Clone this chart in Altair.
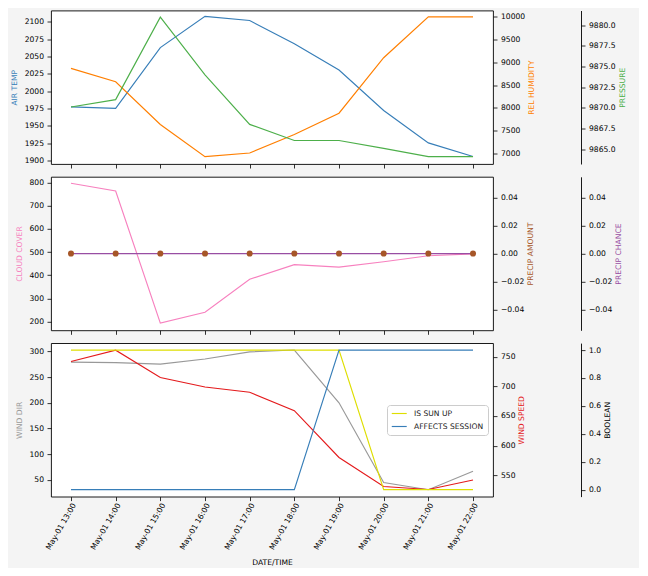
import altair as alt
import pandas as pd

# ---------------- data ----------------
times = ["May-01 13:00", "May-01 14:00", "May-01 15:00", "May-01 16:00", "May-01 17:00",
         "May-01 18:00", "May-01 19:00", "May-01 20:00", "May-01 21:00", "May-01 22:00"]
air_temp = [1977.5, 1975.2, 2063, 2108, 2102, 2068.6, 2030.6, 1972.3, 1925.5, 1905.8]
rel_humidity = [8868, 8573, 7633, 6927, 7007, 7412, 7882, 9102, 10000, 10000]
pressure = [9870.1, 9871.0, 9881.0, 9874.0, 9868.0, 9866.05, 9866.05, 9865.1, 9864.1, 9864.1]
cloud_cover = [796, 763, 194, 241, 383, 446, 435, 458, 484, 492]
precip_amount = [0, 0, 0, 0, 0, 0, 0, 0, 0, 0]
precip_chance = [0, 0, 0, 0, 0, 0, 0, 0, 0, 0]
wind_dir = [279, 278, 275, 285, 299, 302.5, 200, 45, 31, 67]
wind_speed = [742, 761, 715, 699, 690, 659, 580, 531, 526, 542]
is_sun_up = [1, 1, 1, 1, 1, 1, 1, 0, 0, 0]
affects_session = [0, 0, 0, 0, 0, 0, 1, 1, 1, 1]
bool_names = ["IS SUN UP", "AFFECTS SESSION"]

df = pd.DataFrame({
    "time": times, "air_temp": air_temp, "rel_humidity": rel_humidity, "pressure": pressure,
    "cloud_cover": cloud_cover, "precip_amount": precip_amount, "precip_chance": precip_chance,
    "wind_dir": wind_dir, "wind_speed": wind_speed,
})
bool_df = pd.DataFrame({
    "time": times * 2,
    "series": [bool_names[0]] * len(times) + [bool_names[1]] * len(times),
    "value": is_sun_up + affects_session,
})

# ---------------- style ----------------
FONT = "DejaVu Sans"
FS = 7.6
W, H = 442, 153.5
LW = 1.15
C = {"blue": "#377eb8", "orange": "#ff7f00", "green": "#4daf4a", "pink": "#f781bf",
     "brown": "#a65628", "purple": "#984ea3", "gray": "#999999", "red": "#e41a1c",
     "yellow": "#dede00"}


def xenc(bottom=False):
    if bottom:
        ax = alt.Axis(title="DATE/TIME", labelAngle=300, labelAlign="right", labelBaseline="middle",
                      labelPadding=3, labelOffset=3, tickSize=4, titlePadding=8, domain=False)
    else:
        ax = alt.Axis(title=None, labels=False, tickSize=4, domain=False)
    return alt.X("time:N", scale=alt.Scale(domain=times, padding=0.4475), axis=ax)


def yaxis(title, color, side, values, fmt, tpad):
    kw = dict(title=title, titleColor=color, values=values, format=fmt, tickSize=4,
              labelPadding=3.5, titlePadding=tpad)
    if side == "left":
        return alt.Axis(orient="left", domain=False, **kw)
    if side == "right":
        return alt.Axis(orient="right", domain=False, titleAngle=270, titleBaseline="top", **kw)
    return alt.Axis(orient="right", offset=88, domain=True, titleAngle=270, titleBaseline="top", **kw)


def yenc(field, title, color, side, domain, values, fmt, tpad):
    return alt.Y(f"{field}:Q", scale=alt.Scale(domain=domain, nice=False, zero=False),
                 axis=yaxis(title, color, side, values, fmt, tpad))


def line(field, color, title, side, domain, values, fmt, tpad, bottom=False):
    return alt.Chart(df).mark_line(color=color, strokeWidth=LW).encode(
        x=xenc(bottom), y=yenc(field, title, color, side, domain, values, fmt, tpad))


# panel 1
p1 = alt.layer(
    line("air_temp", C["blue"], "AIR TEMP", "left", [1895, 2116.5],
         list(range(1900, 2101, 25)), "d", 6),
    line("rel_humidity", C["orange"], "REL HUMIDITY", "right", [6765, 10140],
         list(range(7000, 10001, 500)), "d", 3),
    line("pressure", C["green"], "PRESSURE", "third", [9863.2, 9881.8],
         [9865, 9867.5, 9870, 9872.5, 9875, 9877.5, 9880], ".1f", 3),
).resolve_scale(y="independent").properties(width=W, height=H)

# panel 2
p2 = alt.layer(
    line("cloud_cover", C["pink"], "CLOUD COVER", "left", [163, 824],
         list(range(200, 801, 100)), "d", 6),
    line("precip_chance", C["purple"], "PRECIP CHANCE", "third", [-0.055, 0.055],
         [-0.04, -0.02, 0, 0.02, 0.04], ".2f", 3),
    alt.Chart(df).mark_circle(color=C["brown"], size=36, opacity=1).encode(
        x=xenc(), y=yenc("precip_amount", "PRECIP AMOUNT", C["brown"], "right", [-0.055, 0.055],
                         [-0.04, -0.02, 0, 0.02, 0.04], ".2f", 3)),
).resolve_scale(y="independent").properties(width=W, height=H)

# panel 3
p3 = alt.layer(
    line("wind_dir", C["gray"], "WIND DIR", "left", [17.6, 316],
         list(range(50, 301, 50)), "d", 6, bottom=True),
    line("wind_speed", C["red"], "WIND SPEED", "right", [514, 773],
         list(range(550, 751, 50)), "d", 3, bottom=True),
    alt.Chart(bool_df).mark_line(strokeWidth=LW).encode(
        x=xenc(True),
        y=yenc("value", "BOOLEAN", "black", "third", [-0.05, 1.05],
               [0, 0.2, 0.4, 0.6, 0.8, 1.0], ".1f", 3),
        color=alt.Color("series:N", scale=alt.Scale(domain=bool_names, range=[C["yellow"], C["blue"]]),
                        legend=alt.Legend(orient="none", legendX=336, legendY=394.5, title=None,
                                          symbolType="M-1,0H3", symbolSize=56, symbolStrokeWidth=LW,
                                          fillColor="white", strokeColor="#cccccc", cornerRadius=3,
                                          padding=4, labelFontSize=FS, labelFont=FONT,
                                          rowPadding=4, labelOffset=14, labelColor="#222222")),
    ),
).resolve_scale(y="independent").properties(width=W, height=H)

chart = alt.vconcat(p1, p2, p3, spacing=12.3, bounds="flush").properties(
    background="#f4f4f4", padding={"left": 1, "top": 1.5, "right": 12, "bottom": 0}
).configure_view(
    fill="white", stroke="black", strokeWidth=0.9
).configure_axis(
    grid=False, labelFont=FONT, titleFont=FONT, labelFontSize=FS, titleFontSize=FS,
    titleFontWeight="normal", labelColor="black", tickColor="black", domainColor="black",
    tickWidth=0.8, domainWidth=0.9,
)

chart.save("out.html", embed_options={"renderer": "svg", "actions": False})
